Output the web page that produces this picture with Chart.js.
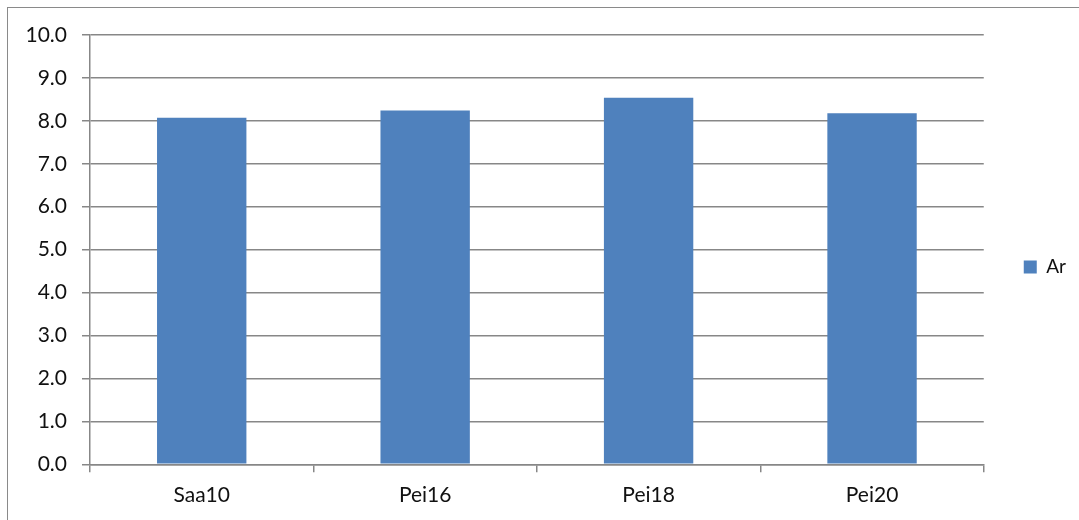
<!DOCTYPE html>
<html>
<head>
<meta charset="utf-8">
<script src="https://cdn.jsdelivr.net/npm/chart.js@4/dist/chart.umd.min.js"></script>
<style>
  html, body { margin: 0; padding: 0; background: #fff; overflow: hidden; }
  #wrap { position: relative; width: 1079px; height: 520px; }
  #frame { position: absolute; left: 7px; top: 7px; width: 1200px; height: 700px;
           border: 1.5px solid #8a8a8a; box-sizing: border-box; }
  #c { position: absolute; left: 0; top: 0; }
</style>
</head>
<body>
<div id="wrap">
  <div id="frame"></div>
  <canvas id="c" width="1079" height="520"></canvas>
</div>
<script>
// Samples and their Ar values
const categories = ['Saa10', 'Pei16', 'Pei18', 'Pei20'];
const arValues = [8.07, 8.24, 8.54, 8.18];
const seriesName = 'Ar';

const gridColor = '#878787';
const fontFamily = 'Lato, "Open Sans", sans-serif';

new Chart(document.getElementById('c'), {
  type: 'bar',
  data: {
    labels: categories,
    datasets: [{
      label: seriesName,
      data: arValues,
      backgroundColor: '#4F81BD',
      borderWidth: 0,
      barPercentage: 0.4,
      categoryPercentage: 1.0
    }]
  },
  options: {
    responsive: false,
    animation: false,
    devicePixelRatio: 1,
    layout: { padding: { left: 0, top: 14, right: 3, bottom: 0 } },
    plugins: {
      tooltip: { enabled: false },
      // empty title used only as top spacing above the plot
      title: {
        display: true,
        text: '',
        font: { size: 1, lineHeight: 1 },
        padding: { top: 10, bottom: 10 }
      },
      legend: {
        position: 'right',
        align: 'center',
        labels: {
          boxWidth: 13,
          boxHeight: 13,
          padding: 40,
          color: '#111',
          font: { family: fontFamily, size: 19 }
        }
      }
    },
    scales: {
      x: {
        grid: {
          offset: true,
          drawOnChartArea: false,
          drawTicks: true,
          tickLength: 8,
          color: gridColor,
          lineWidth: 1.5
        },
        border: { color: gridColor, width: 1.5 },
        ticks: {
          color: '#111',
          padding: 10,
          font: { family: fontFamily, size: 21 }
        },
        afterFit: s => { s.height = 55.7; }
      },
      y: {
        min: 0,
        max: 10,
        grid: {
          color: gridColor,
          lineWidth: 1.5,
          tickLength: 8
        },
        border: { color: gridColor, width: 1.5 },
        ticks: {
          stepSize: 1,
          color: '#111',
          padding: 15,
          font: { family: fontFamily, size: 21 },
          callback: v => Number(v).toFixed(1)
        },
        afterFit: s => { s.width = 90; }
      }
    }
  }
});
</script>
</body>
</html>
